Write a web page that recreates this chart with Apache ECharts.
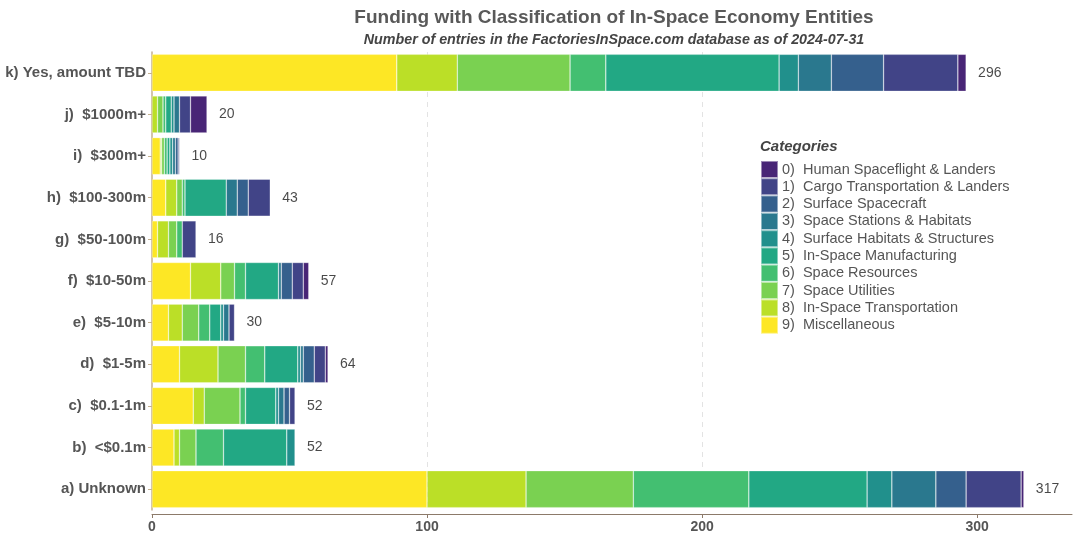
<!DOCTYPE html>
<html>
<head>
<meta charset="utf-8">
<script src="https://cdn.jsdelivr.net/npm/echarts@6/dist/echarts.min.js"></script>
<style>
html,body{margin:0;padding:0;background:#fff;}
#chart{width:1080px;height:540px;}
</style>
</head>
<body>
<div id="chart"></div>
<script>
// Categories (bottom to top)
const categories = ['a) Unknown','b)  <$0.1m','c)  $0.1-1m','d)  $1-5m','e)  $5-10m','f)  $10-50m','g)  $50-100m','h)  $100-300m','i)  $300m+','j)  $1000m+','k) Yes, amount TBD'];
const totals = [317, 52, 52, 64, 30, 57, 16, 43, 10, 20, 296];
const xTicks = [0, 100, 200, 300];

const legendNames = [
  '0)  Human Spaceflight & Landers',
  '1)  Cargo Transportation & Landers',
  '2)  Surface Spacecraft',
  '3)  Space Stations & Habitats',
  '4)  Surface Habitats & Structures',
  '5)  In-Space Manufacturing',
  '6)  Space Resources',
  '7)  Space Utilities',
  '8)  In-Space Transportation',
  '9)  Miscellaneous'
];
const colors = ['#482576','#414487','#35608D','#2A788E','#21908C','#22A884','#43BF71','#7AD151','#BBDF27','#FDE725'];

// values per category, aligned with categories a..k
const cat9 = [100, 8, 15, 10, 6, 14, 2, 5, 3, 0, 89];
const cat8 = [36, 2, 4, 14, 5, 11, 4, 4, 0.5, 2, 22];
const cat7 = [39, 6, 13, 10, 6, 5, 3, 2, 1, 2, 41];
const cat6 = [42, 10, 2, 7, 4, 4, 2, 1, 1, 1, 13];
const cat5 = [43, 23, 11, 12, 4, 12, 0, 15, 1, 2, 63];
const cat4 = [9, 3, 1, 1, 1, 0, 0, 0, 1, 1, 7];
const cat3 = [16, 0, 2, 1, 2, 1, 0, 4, 1, 2, 12];
const cat2 = [11, 0, 2, 4, 0, 4, 0, 4, 1, 0, 19];
const cat1 = [20, 0, 2, 4, 2, 4, 5, 8, 0.5, 4, 27];
const cat0 = [1, 0, 0, 1, 0, 2, 0, 0, 0, 6, 3];

const catValues = [cat0, cat1, cat2, cat3, cat4, cat5, cat6, cat7, cat8, cat9];

const series = [];
for (let k = 9; k >= 0; k--) {
  series.push({
    name: legendNames[k],
    type: 'bar',
    stack: 'total',
    barWidth: 37,
    data: catValues[k].map(v => v === 0 ? '-' : v),
    itemStyle: { color: colors[k], borderColor: 'rgba(255,255,255,0.45)', borderWidth: 0.6 },
    emphasis: { disabled: true }
  });
}
series.push({
  type: 'scatter',
  symbolSize: 0,
  data: totals.map((t, i) => [t, i]),
  label: {
    show: true, position: 'right', distance: 12,
    formatter: p => String(p.value[0]),
    color: '#1a1a1a', fontSize: 14, fontFamily: 'Liberation Sans'
  },
  z: 10
});

const chart = echarts.init(document.getElementById('chart'), null, { renderer: 'canvas' });
chart.setOption({
  animation: false,
  backgroundColor: '#ffffff',
  title: [{
    text: 'Funding with Classification of In-Space Economy Entities',
    subtext: 'Number of entries in the FactoriesInSpace.com database as of 2024-07-31',
    left: 609, top: 3, textAlign: 'center',
    itemGap: 6,
    textStyle: { fontFamily: 'Liberation Sans', fontSize: 19, fontWeight: 'bold', color: '#595959' },
    subtextStyle: { fontFamily: 'Liberation Sans', fontSize: 14.3, fontWeight: 'bold', fontStyle: 'italic', color: '#444444' }
  }, {
    text: 'Categories',
    left: 755, top: 134,
    textStyle: { fontFamily: 'Liberation Sans', fontSize: 15, fontWeight: 'bold', fontStyle: 'italic', color: '#444444' }
  }],
  legend: {
    data: legendNames,
    orient: 'vertical',
    left: 755, top: 155,
    icon: 'rect',
    itemWidth: 17, itemHeight: 17, itemGap: -1.7,
    textStyle: { fontFamily: 'Liberation Sans', fontSize: 14.5, lineHeight: 17, color: '#555555', padding: [0, 0, 0, -1] },
    selectedMode: false
  },
  grid: { left: 152, right: 8, top: 52, bottom: 30, containLabel: false },
  xAxis: {
    type: 'value', min: 0, max: 334.5, interval: 100,
    offset: 4,
    axisLine: { show: true, lineStyle: { color: '#8c7a6a', width: 1 } },
    axisTick: { show: true, length: 4, customValues: xTicks, lineStyle: { color: '#8c7a6a' } },
    axisLabel: { customValues: xTicks, fontFamily: 'Liberation Sans', fontSize: 14, fontWeight: 'bold', color: '#555555', margin: 6 },
    splitLine: { show: true, showMinLine: false, showMaxLine: false, lineStyle: { color: '#e3e3e3', type: [5, 5], width: 1 } }
  },
  yAxis: {
    type: 'category', data: categories,
    axisLine: { show: true, lineStyle: { color: '#c4b08e', width: 1.5 } },
    axisTick: { show: true, length: 4, alignWithLabel: true, lineStyle: { color: '#c4b08e' } },
    axisLabel: { fontFamily: 'Liberation Sans', fontSize: 15, fontWeight: 'bold', color: '#555555', margin: 6 },
    splitLine: { show: false }
  },
  series: series
});
</script>
</body>
</html>
